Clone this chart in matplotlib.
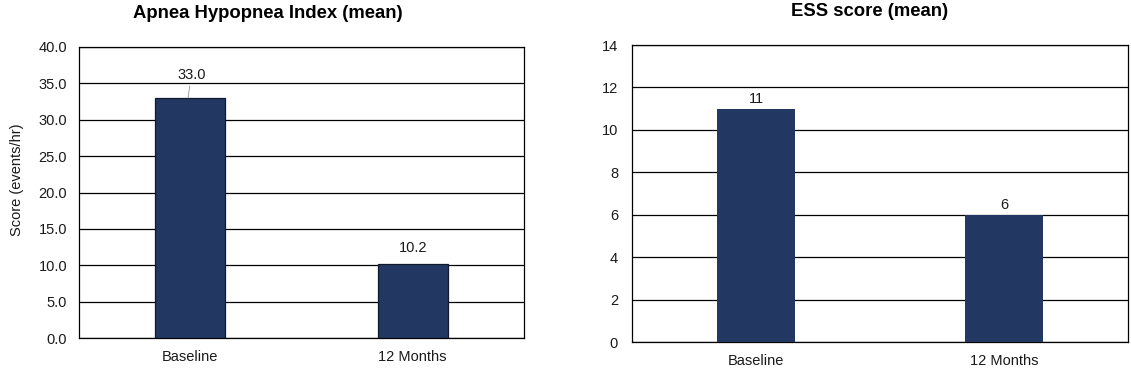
import matplotlib
matplotlib.use("Agg")
import matplotlib.pyplot as plt
import numpy as np

categories = ["Baseline", "12 Months"]
ahi_values = [33.0, 10.2]
ahi_labels = ["33.0", "10.2"]
ess_values = [11, 6]
ess_labels = ["11", "6"]
ahi_yticks = [0, 5, 10, 15, 20, 25, 30, 35, 40]
ess_yticks = [0, 2, 4, 6, 8, 10, 12, 14]

plt.rcParams['font.family'] = ['Liberation Sans', 'DejaVu Sans']

W, H = 1131, 372
fig = plt.figure(figsize=(W / 100, H / 100), dpi=100)
fig.patch.set_facecolor('white')

BAR = '#223862'
TXT = '#1a1a1a'


def px_axes(x0, y0, x1, y1):
    return fig.add_axes([x0 / W, 1 - y1 / H, (x1 - x0) / W, (y1 - y0) / H])


def style(ax, yticks, fmt, ypad):
    ax.set_xlim(-0.5, 1.5)
    ax.set_ylim(yticks[0], yticks[-1])
    ax.set_yticks(yticks)
    ax.set_yticklabels([fmt.format(v) for v in yticks])
    ax.set_xticks(range(len(categories)))
    ax.set_xticklabels(categories)
    ax.tick_params(axis='both', length=0, labelsize=10.5, colors=TXT)
    ax.tick_params(axis='y', pad=ypad)
    ax.tick_params(axis='x', pad=8.5)
    ax.yaxis.grid(True, color='black', linewidth=0.9)
    ax.set_axisbelow(True)
    for s in ax.spines.values():
        s.set_color('black')
        s.set_linewidth(0.9)


# Left chart
ax1 = px_axes(79, 47, 524, 338)
x = np.arange(len(categories))
ax1.bar(x, ahi_values, width=0.315, color=BAR, edgecolor='#101a2c', linewidth=0.9, zorder=3)
style(ax1, ahi_yticks, "{:.1f}", 8.5)
ax1.annotate(ahi_labels[0], xy=(x[0] - 0.01, ahi_values[0]), xytext=(2.4, 16.6),
             textcoords='offset points', ha='center', va='center', fontsize=10.5,
             color=TXT,
             arrowprops=dict(arrowstyle='-', color='#909090', lw=0.6, shrinkA=1, shrinkB=0))
ax1.annotate(ahi_labels[1], xy=(x[1], ahi_values[1]), xytext=(0, 11.5),
             textcoords='offset points', ha='center', va='center', fontsize=10.5,
             color=TXT)

# Right chart
ax2 = px_axes(632, 45, 1128, 342)
ax2.bar(x, ess_values, width=0.315, color=BAR, edgecolor='none', zorder=3)
style(ax2, ess_yticks, "{:d}", 10)
for xi, v, lab in zip(x, ess_values, ess_labels):
    ax2.annotate(lab, xy=(xi, v), xytext=(0, 7.2), textcoords='offset points',
                 ha='center', va='center', fontsize=10.5, color=TXT)

fig.text(268 / W, 1 - 14 / H, "Apnea Hypopnea Index (mean)", ha='center', va='center',
         fontsize=13.3, fontweight='bold', color='black')
fig.text(869.5 / W, 1 - 11 / H, "ESS score (mean)", ha='center', va='center',
         fontsize=13.3, fontweight='bold', color='black')
fig.text(17 / W, 1 - 180 / H, "Score (events/hr)", ha='center', va='center',
         rotation=90, fontsize=10.5, color=TXT)

fig.savefig("out.png", dpi=100, facecolor='white')
